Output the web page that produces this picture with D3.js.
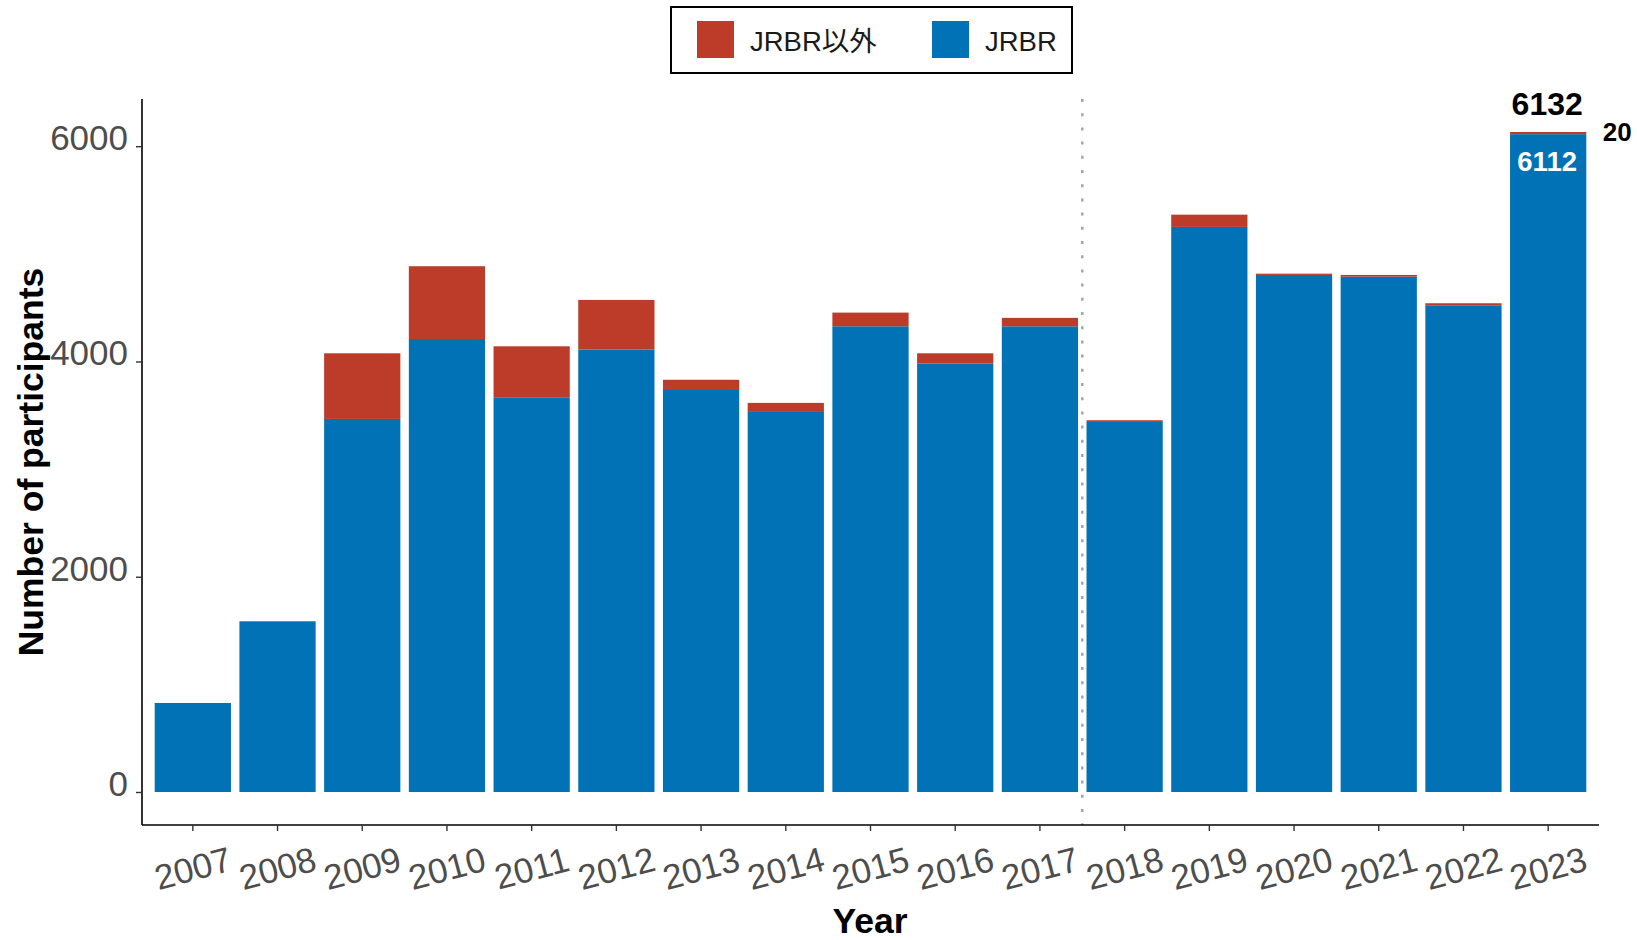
<!DOCTYPE html>
<html>
<head>
<meta charset="utf-8">
<script src="https://cdn.jsdelivr.net/npm/d3@7"></script>
<style>
  body { margin: 0; background: #fff; }
  svg { font-family: "Liberation Sans", Arial, "Noto Sans CJK JP", sans-serif; }
</style>
</head>
<body>
<svg width="1637" height="940"></svg>
<script>
// data
const years = ['2007','2008','2009','2010','2011','2012','2013','2014','2015',
               '2016','2017','2018','2019','2020','2021','2022','2023'];
const jrbr  = [827, 1586, 3466, 4209, 3667, 4110, 3735, 3531, 4327,
               3980, 4327, 3438, 5250, 4804, 4788, 4522, 6112];
const other = [0, 0, 610, 676, 474, 462, 95, 84, 127,
               96, 78, 16, 114, 12, 16, 19, 20];
const yTicks = [0, 2000, 4000, 6000];
const seriesNames = ['JRBR以外', 'JRBR'];
const colors = {'JRBR以外': '#BC3C29', 'JRBR': '#0072B5'};

const svg = d3.select('svg');

// scales (ggplot-like expansion)
const x = d3.scaleBand()
    .domain(years)
    .range([142, 1599])
    .paddingInner(0.1)
    .paddingOuter(0.15);

const total = 6132;
const y = d3.scaleLinear()
    .domain([-0.05 * total, 1.05 * total])
    .range([825, 99]);

// stacked rows
const rows = years.map((yr, i) => ({year: yr, 'JRBR': jrbr[i], 'JRBR以外': other[i]}));
const stack = d3.stack().keys(['JRBR', 'JRBR以外'])(rows);

svg.append('g')
  .selectAll('g')
  .data(stack)
  .enter().append('g')
    .attr('fill', d => colors[d.key])
  .selectAll('rect')
  .data(d => d)
  .enter().append('rect')
    .attr('x', d => x(d.data.year))
    .attr('width', x.bandwidth())
    .attr('y', d => y(d[1]))
    .attr('height', d => Math.max(0, y(d[0]) - y(d[1])));

// dotted separator between 2017 and 2018
const sepX = (x('2017') + x.bandwidth() + x('2018')) / 2;
svg.append('line')
    .attr('x1', sepX).attr('x2', sepX)
    .attr('y1', 99).attr('y2', 825)
    .attr('stroke', '#a6a6a6')
    .attr('stroke-width', 2.5)
    .attr('stroke-dasharray', '3,11.2');

// y axis
const yAxis = svg.append('g')
    .attr('transform', 'translate(142,0)')
    .call(d3.axisLeft(y).tickValues(yTicks).tickSize(6).tickPadding(8).tickFormat(d3.format('d')));
yAxis.select('.domain').attr('stroke', '#000').attr('stroke-width', 1.6).attr('d', 'M0,99V825');
yAxis.selectAll('.tick line').attr('stroke', '#333').attr('stroke-width', 1.4);
yAxis.selectAll('.tick text')
    .attr('fill', '#4d4d4d')
    .attr('dy', null)
    .attr('y', -9)
    .attr('dominant-baseline', 'central')
    .style('font-size', '35px');

// x axis
const xAxis = svg.append('g')
    .attr('transform', 'translate(0,825)')
    .call(d3.axisBottom(x).tickSize(6).tickPadding(0));
xAxis.select('.domain').attr('stroke', '#000').attr('stroke-width', 1.6).attr('d', 'M142,0H1599');
xAxis.selectAll('.tick line').attr('stroke', '#333').attr('stroke-width', 1.4);
xAxis.selectAll('.tick text')
    .attr('fill', '#4d4d4d')
    .style('font-size', '35px')
    .attr('text-anchor', 'middle')
    .attr('dy', null)
    .attr('dominant-baseline', 'central')
    .attr('y', 0)
    .attr('transform', 'translate(0,43) rotate(-15)');

// axis titles
svg.append('text')
    .attr('x', 870).attr('y', 921)
    .attr('text-anchor', 'middle')
    .attr('dominant-baseline', 'central')
    .style('font-size', '35.5px')
    .style('font-weight', 'bold')
    .text('Year');

svg.append('text')
    .attr('transform', 'translate(31,462) rotate(-90)')
    .attr('text-anchor', 'middle')
    .attr('dominant-baseline', 'central')
    .style('font-size', '35.5px')
    .style('font-weight', 'bold')
    .text('Number of participants');

// annotations on the 2023 bar
const last = years.length - 1;
const cx = x(years[last]) + x.bandwidth() / 2;
svg.append('text')
    .attr('x', cx - 1).attr('y', y(jrbr[last] + other[last]) - 28)
    .attr('text-anchor', 'middle')
    .attr('dominant-baseline', 'central')
    .style('font-size', '32px').style('font-weight', 'bold')
    .text(jrbr[last] + other[last]);
svg.append('text')
    .attr('x', cx - 1).attr('y', y(jrbr[last]) + 27)
    .attr('text-anchor', 'middle')
    .attr('dominant-baseline', 'central')
    .attr('fill', '#fff')
    .style('font-size', '27.5px').style('font-weight', 'bold')
    .text(jrbr[last]);
svg.append('text')
    .attr('x', x(years[last]) + x.bandwidth() + 31).attr('y', y(jrbr[last]) - 2)
    .attr('text-anchor', 'middle')
    .attr('dominant-baseline', 'central')
    .style('font-size', '26px').style('font-weight', 'bold')
    .text(other[last]);

// legend
const legend = svg.append('g');
legend.append('rect')
    .attr('x', 671).attr('y', 7)
    .attr('width', 401).attr('height', 66)
    .attr('fill', '#fff')
    .attr('stroke', '#000')
    .attr('stroke-width', 2);
const items = legend.selectAll('.item')
    .data(seriesNames)
    .enter().append('g')
    .attr('class', 'item')
    .attr('transform', (d, i) => 'translate(' + (697 + i * 235) + ',21)');
items.append('rect')
    .attr('width', 37).attr('height', 37)
    .attr('fill', d => colors[d]);
items.append('text')
    .attr('x', 53).attr('y', 20)
    .attr('dominant-baseline', 'central')
    .attr('fill', '#1a1a1a')
    .style('font-size', '27.5px')
    .text(d => d);
</script>
</body>
</html>
